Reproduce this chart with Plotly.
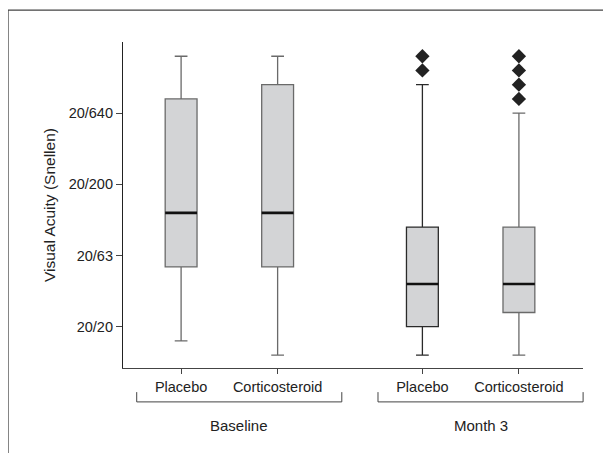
import plotly.graph_objects as go

# ---- data (logMAR scale; Snellen labels on axis) ----
groups = ["Baseline", "Baseline", "Month 3", "Month 3"]
treatments = ["Placebo", "Corticosteroid", "Placebo", "Corticosteroid"]
positions = [1.0, 2.0, 3.5, 4.5]
lower_fence = [-0.1, -0.2, -0.2, -0.2]
q1_vals = [0.42, 0.42, 0.0, 0.1]
median_vals = [0.8, 0.8, 0.3, 0.3]
q3_vals = [1.6, 1.7, 0.7, 0.7]
upper_fence = [1.9, 1.9, 1.7, 1.5]
outliers = [[], [], [1.8, 1.9], [1.6, 1.7, 1.8, 1.9]]

y_tickvals = [0, 0.5, 1.0, 1.5]
y_ticktext = ["20/20", "20/63", "20/200", "20/640"]

group_names = ["Baseline", "Month 3"]

# ---- style ----
FONT = "Liberation Sans, Arial, Helvetica, sans-serif"
box_line_colors = ["#6a6a6a", "#6a6a6a", "#2a2a2a", "#6a6a6a"]
BOX_W = 0.33
XR = [0.398, 5.164]
YR = [-0.29, 2.0]

fig = go.Figure()

for i in range(len(positions)):
    fig.add_trace(go.Box(
        x=[positions[i]],
        q1=[q1_vals[i]], median=[median_vals[i]], q3=[q3_vals[i]],
        lowerfence=[lower_fence[i]], upperfence=[upper_fence[i]],
        width=BOX_W, whiskerwidth=0.4,
        fillcolor="#d3d4d6",
        line=dict(color=box_line_colors[i], width=1.3),
        boxpoints=False, showlegend=False, hoverinfo="skip",
    ))

# medians drawn thicker
mx, my = [], []
for p, m in zip(positions, median_vals):
    mx += [p - BOX_W / 2, p + BOX_W / 2, None]
    my += [m, m, None]
fig.add_trace(go.Scatter(x=mx, y=my, mode="lines",
                         line=dict(color="#111", width=2.6),
                         showlegend=False, hoverinfo="skip"))

# outliers
ox, oy = [], []
for p, outs in zip(positions, outliers):
    for v in outs:
        ox.append(p)
        oy.append(v)
fig.add_trace(go.Scatter(x=ox, y=oy, mode="markers",
                         marker=dict(symbol="diamond", size=11, color="#222",
                                     line=dict(width=0)),
                         showlegend=False, hoverinfo="skip"))

def xpaper(v):
    return (v - XR[0]) / (XR[1] - XR[0])

shapes = []
annotations = []
for g in group_names:
    idx = [i for i, gg in enumerate(groups) if gg == g]
    left = xpaper(positions[idx[0]] - 0.46)
    right = xpaper(positions[idx[-1]] + 0.665)
    y_top, y_bot = -0.074, -0.104
    shapes.append(dict(type="path", xref="paper", yref="paper",
                       path=f"M {left},{y_top} L {left},{y_bot} L {right},{y_bot} L {right},{y_top}",
                       line=dict(color="#444", width=1)))
    annotations.append(dict(text=g, x=(left + right) / 2, y=-0.175,
                            xref="paper", yref="paper", showarrow=False,
                            xanchor="center", yanchor="middle",
                            font=dict(family=FONT, size=15, color="#222")))

# outer frame (open at bottom)
shapes.append(dict(type="rect", xref="paper", yref="paper",
                   x0=-0.25, x1=1.0522, y0=-0.3, y1=1.098,
                   line=dict(color="#444", width=1.3), fillcolor="rgba(0,0,0,0)"))

annotations.append(dict(text="Visual Acuity (Snellen)", x=0, y=0.5,
                        xref="paper", yref="paper", xshift=-74,
                        showarrow=False, textangle=-90,
                        xanchor="center", yanchor="middle",
                        font=dict(family=FONT, size=15.5, color="#222")))

fig.update_layout(
    width=611, height=453,
    margin=dict(l=115, r=36, t=34, b=93),
    paper_bgcolor="white", plot_bgcolor="white",
    font=dict(family=FONT, size=14, color="#222"),
    shapes=shapes, annotations=annotations,
    xaxis=dict(range=XR, tickvals=positions, ticktext=treatments,
               showgrid=False, zeroline=False, showline=True,
               linecolor="#444", linewidth=1.2,
               ticks="outside", ticklen=5, tickcolor="#444", tickwidth=1,
               tickfont=dict(family=FONT, size=14.5, color="#222")),
    yaxis=dict(range=YR, tickvals=y_tickvals, ticktext=y_ticktext,
               showgrid=False, zeroline=False, showline=True,
               linecolor="#222", linewidth=1.2,
               ticks="outside", ticklen=6, tickcolor="#444", tickwidth=1,
               tickfont=dict(family=FONT, size=14.5, color="#222")),
)

fig.write_html("out.html")
